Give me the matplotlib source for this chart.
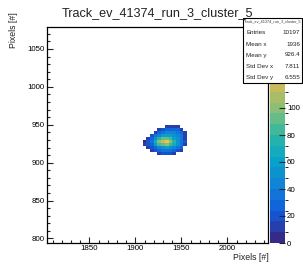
import numpy as np
import matplotlib
matplotlib.use('Agg')
import matplotlib.pyplot as plt
from matplotlib.colors import LinearSegmentedColormap, BoundaryNorm
from matplotlib.patches import Rectangle
from matplotlib.ticker import MultipleLocator

plt.rcParams['font.family'] = ['Liberation Sans', 'DejaVu Sans']

# Histogram data (4-pixel bins, rows from bottom to top)
x_start, y_start, bin_w = 1908, 910, 4
counts = [
    [0, 0, 0, 0, 14, 20, 22, 16, 10, 0, 0, 0],
    [0, 0, 12, 18, 26, 34, 38, 34, 28, 20, 12, 0],
    [0, 10, 18, 30, 44, 55, 60, 52, 44, 36, 26, 0],
    [8, 16, 28, 62, 80, 92, 100, 86, 66, 48, 34, 14],
    [6, 18, 34, 70, 96, 118, 128, 96, 72, 52, 38, 16],
    [0, 14, 30, 48, 78, 88, 94, 80, 62, 50, 36, 14],
    [0, 0, 18, 34, 46, 56, 62, 58, 54, 46, 32, 12],
    [0, 0, 0, 14, 26, 36, 42, 46, 44, 38, 26, 10],
    [0, 0, 0, 0, 12, 18, 24, 30, 30, 24, 14, 0],
    [0, 0, 0, 0, 0, 0, 10, 14, 14, 10, 0, 0],
]
z_max = 160
x_range = (1804, 2044)
y_range = (794, 1079)
x_ticks = [1850, 1900, 1950, 2000]
y_ticks = [800, 850, 900, 950, 1000, 1050]
z_ticks = [0, 20, 40, 60, 80, 100]

title = 'Track_ev_41374_run_3_cluster_5'
stats_names = ['Entries', 'Mean x', 'Mean y', 'Std Dev x', 'Std Dev y']
stats_values = ['10197', '1936', '926.4', '7.811', '6.555']

# ROOT kBird palette
bird_r = [0.2082, 0.0592, 0.0780, 0.0232, 0.1802, 0.5301, 0.8186, 0.9956, 0.9764]
bird_g = [0.1664, 0.3599, 0.5041, 0.6419, 0.7178, 0.7492, 0.7328, 0.7862, 0.9832]
bird_b = [0.5293, 0.8684, 0.8385, 0.7914, 0.6425, 0.4662, 0.3499, 0.1968, 0.0539]
bird = LinearSegmentedColormap.from_list('bird', list(zip(bird_r, bird_g, bird_b)), N=256)

W, H = 303, 264
fig = plt.figure(figsize=(W / 100, H / 100), dpi=100)
fig.patch.set_facecolor('white')


def fx(px):
    return px / W


def fy(py):
    return 1 - py / H


ax = fig.add_axes([fx(47), fy(243), fx(268) - fx(47), fy(27) - fy(243)])
cax = fig.add_axes([fx(270), fy(243), fx(285) - fx(270), fy(27) - fy(243)])

z = np.ma.masked_equal(np.array(counts, dtype=float), 0)
ny, nx = z.shape
xe = x_start + bin_w * np.arange(nx + 1)
ye = y_start + bin_w * np.arange(ny + 1)
levels = np.linspace(0, z_max, 21)
norm = BoundaryNorm(levels, ncolors=256)
mesh = ax.pcolormesh(xe, ye, z, cmap=bird, norm=norm)

ax.set_xlim(*x_range)
ax.set_ylim(*y_range)
ax.set_xticks(x_ticks)
ax.set_yticks(y_ticks)
ax.xaxis.set_minor_locator(MultipleLocator(10))
ax.yaxis.set_minor_locator(MultipleLocator(10))
ax.tick_params(which='both', direction='in', top=False, right=False,
               labelsize=5.7, pad=1.5, width=0.8, color='#222222')
ax.tick_params(which='major', length=4.3)
ax.tick_params(which='minor', length=2.2)
for s in ax.spines.values():
    s.set_linewidth(0.9)

cb = fig.colorbar(mesh, cax=cax, ticks=z_ticks)
cb.outline.set_visible(False)
cax.tick_params(direction='in', length=4.5, width=0.8, labelsize=5.7, pad=1.5, color='#222222')
cax.set_ylim(0, z_max)

fig.text(fx(157), fy(13), title, ha='center', va='center', fontsize=9.1, color='#222222')
fig.text(fx(269), fy(258), 'Pixels [#]', ha='right', va='center', fontsize=6.3, color='#222222')
fig.text(fx(14), fy(30), 'Pixels [#]', ha='center', va='center', rotation=90, fontsize=6.3, color='#222222')

# stats box
fig.patches.append(Rectangle((fx(243), fy(83)), fx(302) - fx(243), fy(18) - fy(83),
                             transform=fig.transFigure, facecolor='white', edgecolor='black',
                             linewidth=0.8, zorder=2))
fig.lines.append(plt.Line2D([fx(243), fx(302)], [fy(25), fy(25)], transform=fig.transFigure,
                            color='black', linewidth=0.6, zorder=2))
fig.text(fx(272.5), fy(21.5), title, ha='center', va='center', fontsize=2.7, color='#333333', zorder=3)
for i, (name, val) in enumerate(zip(stats_names, stats_values)):
    y = 33 + i * 11
    fig.text(fx(246), fy(y), name, ha='left', va='center', fontsize=4.5, color='#222222', zorder=3)
    fig.text(fx(300), fy(y), val, ha='right', va='center', fontsize=4.5, color='#222222', zorder=3)

fig.savefig('out.png', dpi=100)
